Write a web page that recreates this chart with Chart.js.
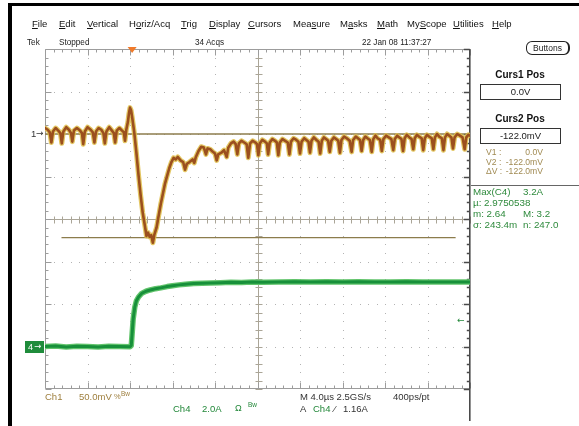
<!DOCTYPE html>
<html>
<head>
<meta charset="utf-8">
<script src="https://cdn.jsdelivr.net/npm/chart.js@4"></script>
<style>
  html, body { margin: 0; padding: 0; background: #fff; }
  #scope { position: relative; width: 579px; height: 426px; overflow: hidden;
           font-family: "Liberation Sans", Arial, "DejaVu Sans", sans-serif; color: #1a1a1a; }
  #scope canvas { position: absolute; left: 0; top: 0; }
  .t { position: absolute; white-space: nowrap; line-height: 1; }
  .menu { font-size: 9.5px; top: 19px; color: #111; }
  .stat { font-size: 9.5px; top: 37px; color: #222; transform-origin: left center; transform: scaleX(0.86); }
  .frame { position: absolute; background: #000; }
  .btn { position: absolute; left: 526px; top: 41px; width: 41px; height: 12px; border: 1.3px solid #222;
         border-right-width: 2px; border-bottom-width: 1.6px; border-radius: 6px; font-size: 8.5px;
         line-height: 12px; text-align: center; color: #222; }
  .hd { font-size: 10px; font-weight: bold; color: #111; width: 80px; left: 480px; text-align: center; }
  .box { position: absolute; left: 480px; width: 79px; height: 14px; border: 1px solid #333;
         font-size: 9.5px; line-height: 14px; text-align: center; color: #222; }
  .cur { font-size: 8.6px; color: #a08a52; }
  .meas { font-size: 9.8px; color: #2e8a3c; }
  .c1 { color: #9e7f3e; }
  .c4 { color: #23883a; }
  .dk { color: #333; }
  .bot { font-size: 9.5px; }
  .sup { font-size: 6.5px; }
</style>
</head>
<body>
<div id="scope">
  <canvas id="c" width="579" height="426"></canvas>

  <div class="frame" style="left:8px;top:2.5px;width:571px;height:3.5px;"></div>
  <div class="frame" style="left:8px;top:2.5px;width:3.5px;height:424px;"></div>

  <div class="t menu" style="left:32px;"><u>F</u>ile</div>
  <div class="t menu" style="left:59px;"><u>E</u>dit</div>
  <div class="t menu" style="left:87px;"><u>V</u>ertical</div>
  <div class="t menu" style="left:129px;">H<u>o</u>riz/Acq</div>
  <div class="t menu" style="left:181px;"><u>T</u>rig</div>
  <div class="t menu" style="left:209px;"><u>D</u>isplay</div>
  <div class="t menu" style="left:248px;"><u>C</u>ursors</div>
  <div class="t menu" style="left:293px;">Mea<u>s</u>ure</div>
  <div class="t menu" style="left:340px;">M<u>a</u>sks</div>
  <div class="t menu" style="left:377px;"><u>M</u>ath</div>
  <div class="t menu" style="left:407px;">My<u>S</u>cope</div>
  <div class="t menu" style="left:453px;"><u>U</u>tilities</div>
  <div class="t menu" style="left:492px;"><u>H</u>elp</div>

  <div class="t stat" style="left:27px;">Tek</div>
  <div class="t stat" style="left:59px;">Stopped</div>
  <div class="t stat" style="left:195px;">34 Acqs</div>
  <div class="t stat" style="left:362px;">22 Jan 08 11:37:27</div>
  <div class="btn">Buttons</div>

  <div class="t hd" style="top:70px;">Curs1 Pos</div>
  <div class="box" style="top:84px;">0.0V</div>
  <div class="t hd" style="top:114px;">Curs2 Pos</div>
  <div class="box" style="top:128px;">-122.0mV</div>

  <div class="t cur" style="left:486px;top:148px;">V1 :</div>
  <div class="t cur" style="right:36px;top:148px;">0.0V</div>
  <div class="t cur" style="left:486px;top:157.5px;">V2 :</div>
  <div class="t cur" style="right:36px;top:157.5px;">-122.0mV</div>
  <div class="t cur" style="left:486px;top:167px;">ΔV :</div>
  <div class="t cur" style="right:36px;top:167px;">-122.0mV</div>

  <div style="position:absolute;left:471px;top:185px;width:108px;height:1px;background:#666;"></div>
  <div class="t meas" style="left:473px;top:187px;">Max(C4)</div>
  <div class="t meas" style="left:523px;top:187px;">3.2A</div>
  <div class="t meas" style="left:473px;top:198px;">µ: 2.9750538</div>
  <div class="t meas" style="left:473px;top:209px;">m: 2.64</div>
  <div class="t meas" style="left:523px;top:209px;">M: 3.2</div>
  <div class="t meas" style="left:473px;top:220px;">σ: 243.4m</div>
  <div class="t meas" style="left:523px;top:220px;">n: 247.0</div>

  <div class="t dk" style="left:31px;top:129px;font-size:9.5px;">1</div>
  <div class="t dk" style="left:36px;top:129px;font-size:9px;font-family:'DejaVu Sans';">→</div>
  <div style="position:absolute;left:25px;top:341px;width:19px;height:12px;background:#1f8c3b;"></div>
  <div class="t" style="left:28px;top:342.5px;font-size:9px;color:#fff;">4</div>
  <div class="t" style="left:34px;top:342px;font-size:8.5px;color:#fff;font-family:'DejaVu Sans';">→</div>
  <div class="t c4" style="left:457px;top:316px;font-size:9px;font-family:'DejaVu Sans';">←</div>

  <div class="t bot c1" style="left:45px;top:392px;">Ch1</div>
  <div class="t bot c1" style="left:79px;top:392px;">50.0mV</div>
  <div class="t c1" style="left:114px;top:393px;font-size:7.5px;">%</div>
  <div class="t sup c1" style="left:121px;top:391px;">Bw</div>
  <div class="t bot dk" style="left:300px;top:392px;">M 4.0µs 2.5GS/s</div>
  <div class="t bot dk" style="left:393px;top:392px;">400ps/pt</div>

  <div class="t bot c4" style="left:173px;top:403.5px;">Ch4</div>
  <div class="t bot c4" style="left:202px;top:403.5px;">2.0A</div>
  <div class="t bot c4" style="left:235px;top:403.5px;font-size:9px;">Ω</div>
  <div class="t sup c4" style="left:248px;top:401.5px;">Bw</div>
  <div class="t bot dk" style="left:300px;top:403.5px;">A</div>
  <div class="t bot c4" style="left:313px;top:403.5px;">Ch4</div>
  <div class="t bot dk" style="left:334px;top:403.5px;">⁄</div>
  <div class="t bot dk" style="left:343px;top:403.5px;">1.16A</div>
</div>

<script>
// Channel 1: sense voltage (mV) against time (µs)
const ch1Time = [
  -8.0, -7.75, -7.55, -7.4, -7.25,
  -7.0, -6.75, -6.55, -6.42, -6.27,
  -6.0, -5.75, -5.55, -5.43, -5.28,
  -5.0, -4.7, -4.52, -4.4, -4.25,
  -4.0, -3.7, -3.5, -3.35, -3.2,
  -2.95, -2.7, -2.5, -2.37, -2.22,
  -1.95, -1.7, -1.52, -1.4, -1.25,
  -1.0, -0.75, -0.58, -0.47, -0.35,
  -0.2, -0.1, 0.0, 0.1, 0.2,
  0.4, 0.6, 0.8, 1.0, 1.2,
  1.4, 1.55, 1.7, 1.85, 2.0,
  2.15, 2.3, 2.5, 2.7, 2.9,
  3.1, 3.3, 3.5, 3.7, 3.9,
  4.1, 4.3, 4.5, 4.75, 5.0,
  5.18, 5.35, 5.6, 5.9, 6.05,
  6.2, 6.45, 6.7, 6.95, 7.15,
  7.3, 7.55, 7.8, 8.0, 8.16,
  8.3, 8.6, 8.85, 9.1, 9.25,
  9.5, 9.75, 9.95, 10.1, 10.25,
  10.5, 10.75, 10.98, 11.13, 11.3,
  11.55, 11.8, 11.95, 12.08, 12.22,
  12.45, 12.7, 12.88, 13.0, 13.15,
  13.4, 13.65, 13.82, 13.96, 14.1,
  14.35, 14.6, 14.85, 15.0, 15.15,
  15.4, 15.65, 15.85, 16.0, 16.15,
  16.4, 16.6, 16.8, 16.94, 17.08,
  17.3, 17.55, 17.75, 17.9, 18.05,
  18.25, 18.45, 18.65, 18.8, 18.95,
  19.2, 19.4, 19.6, 19.76, 19.9,
  20.15, 20.4, 20.68, 20.86, 21.0,
  21.25, 21.45, 21.65, 21.8, 21.95,
  22.15, 22.35, 22.58, 22.75, 22.9,
  23.1, 23.3, 23.55, 23.7, 23.85,
  24.1, 24.35, 24.6, 24.78, 24.92,
  25.15, 25.35, 25.55, 25.7, 25.85,
  26.05, 26.3, 26.5, 26.66, 26.8,
  27.0, 27.2, 27.45, 27.6, 27.75,
  27.95, 28.15, 28.4, 28.55, 28.7,
  28.9, 29.1, 29.35, 29.5, 29.65,
  29.85, 30.05, 30.25, 30.4, 30.55,
  30.8, 31.05, 31.3, 31.5, 31.65,
  31.85, 32.0
];
const ch1Volt = [
  7, 5, 2, -10, 3,
  7, 4, 1, -11, 3,
  8, 5, 1, -9, 4,
  7, 4, 1, -12, 3,
  8, 5, 2, -10, 3,
  7, 5, 1, -11, 3,
  8, 4, 1, -10, 4,
  7, 4, 2, -8, 5,
  14, 24, 31, 28, 20,
  2, -22, -48, -72, -93,
  -108, -120, -116, -121, -119,
  -128, -118, -110, -96, -82,
  -70, -58, -49, -40, -33,
  -28, -30, -27, -31, -33,
  -42, -35, -33, -30, -34,
  -27, -20, -15, -16, -24,
  -17, -18, -21, -23, -31,
  -24, -22, -19, -27, -16,
  -11, -9, -12, -24, -11,
  -8, -10, -12, -28, -11,
  -8, -10, -12, -25, -11,
  -7, -9, -11, -24, -10,
  -6, -8, -10, -25, -10,
  -6, -8, -10, -24, -9,
  -5, -7, -9, -23, -9,
  -5, -7, -9, -22, -8,
  -4, -7, -9, -23, -8,
  -4, -6, -8, -21, -8,
  -4, -6, -8, -22, -7,
  -3, -5, -8, -21, -7,
  -3, -5, -7, -20, -7,
  -3, -5, -7, -21, -6,
  -2, -5, -7, -20, -6,
  -2, -4, -6, -19, -6,
  -2, -4, -6, -20, -5,
  -1, -4, -6, -18, -5,
  -1, -3, -5, -19, -5,
  -1, -3, -5, -18, -4,
  0, -3, -5, -19, -4,
  0, -2, -4, -17, -4,
  0, -2, -4, -18, -4,
  -1, -2
];

// Channel 4: current (A) against time (µs)
const ch4Time = [
  -8, -7, -6, -5, -4, -3, -2, -1, 0, 0.12,
  0.2, 0.3, 0.45, 0.6, 0.8, 1.1, 1.5, 1.9, 2.4, 2.9,
  3.5, 4.0, 4.6, 5.2, 6.0, 6.8, 7.6, 8.5, 9.5, 10.5,
  11.5, 12.5, 14, 15.5, 17, 18.5, 20, 21.5, 23, 24.5,
  26, 27.5, 29, 30.5, 32
];
const ch4Amp = [
  0.0, 0.02, -0.02, 0.01, 0.0, -0.02, 0.01, 0.0, -0.01, 0.05,
  0.6, 1.3, 1.85, 2.15, 2.33, 2.5, 2.6, 2.66, 2.72, 2.76,
  2.82, 2.86, 2.9, 2.93, 2.96, 2.98, 2.99, 3.0, 3.02, 3.01,
  3.03, 3.02, 3.04, 3.05, 3.03, 3.05, 3.04, 3.05, 3.03, 3.04,
  3.05, 3.03, 3.04, 3.03, 3.04
];

// Horizontal cursors (mV) and the time span each one is drawn over (µs)
const cursorLevels = [0, -122];
const cursorSpans = [[-8, 32], [-6.4, 30.6]];

// Trigger: position on the time axis (µs) and level on channel 4 (A)
const triggerTime = 0.2;
const triggerLevel = 1.16;

// Screen span: 10 divisions of 4 µs, 8 divisions of 50 mV and of 2 A
const timeRange = [-8, 32];
const ch1Range = [-300, 100];
const ch4Range = [-2, 14];

const ch1Points = ch1Time.map((t, i) => ({ x: t, y: ch1Volt[i] }));
const ch4Points = ch4Time.map((t, i) => ({ x: t, y: ch4Amp[i] }));

// Tek-style graticule: dotted division lines, ticked centre axes and border
const graticule = {
  id: 'graticule',
  beforeDatasetsDraw(chart) {
    const { ctx, chartArea: a } = chart;
    const xs = chart.scales.x, ys = chart.scales.y1;
    const xAt = d => xs.getPixelForValue(timeRange[0] + d * 4);
    const yAt = d => ys.getPixelForValue(ch1Range[1] - d * 50);
    const L = a.left, R = a.right, T = a.top, B = a.bottom;
    ctx.save();

    ctx.fillStyle = '#b3b3b3';
    for (let i = 1; i < 10; i++) {
      if (i === 5) continue;
      const x = Math.round(xAt(i));
      for (let k = 1; k < 40; k++) ctx.fillRect(x, Math.round(yAt(k / 5)), 1, 1);
    }
    for (let j = 1; j < 8; j++) {
      if (j === 4) continue;
      const y = Math.round(yAt(j));
      for (let k = 1; k < 50; k++) ctx.fillRect(Math.round(xAt(k / 5)), y, 1, 1);
    }

    ctx.strokeStyle = '#aaa597';
    ctx.lineWidth = 1;
    const cx = Math.round(xAt(5)) + 0.5, cy = Math.round(yAt(4)) + 0.5;
    ctx.beginPath();
    ctx.moveTo(L, cy); ctx.lineTo(R, cy);
    ctx.moveTo(cx, T); ctx.lineTo(cx, B);
    for (let k = 0; k <= 50; k++) {
      const x = Math.round(xAt(k / 5)) + 0.5;
      ctx.moveTo(x, cy - 3); ctx.lineTo(x, cy + 4);
    }
    for (let k = 0; k <= 40; k++) {
      const y = Math.round(yAt(k / 5)) + 0.5;
      ctx.moveTo(cx - 3, y); ctx.lineTo(cx + 4, y);
    }
    ctx.stroke();

    ctx.strokeStyle = '#9c9c9c';
    const l = Math.round(L) + 0.5, t = Math.round(T) + 0.5, b = Math.round(B) - 0.5;
    ctx.beginPath();
    ctx.moveTo(l, t); ctx.lineTo(R, t);
    ctx.moveTo(l, t); ctx.lineTo(l, b); ctx.lineTo(R, b);
    for (let k = 0; k <= 50; k++) {
      const x = Math.round(xAt(k / 5)) + 0.5, len = k % 5 === 0 ? 6 : 3;
      ctx.moveTo(x, t); ctx.lineTo(x, t + len);
      ctx.moveTo(x, b); ctx.lineTo(x, b - len);
    }
    for (let k = 0; k <= 40; k++) {
      const y = Math.round(yAt(k / 5)) + 0.5, len = k % 5 === 0 ? 6 : 3;
      ctx.moveTo(l, y); ctx.lineTo(l + len, y);
    }
    ctx.stroke();

    ctx.strokeStyle = '#4a4a4a';
    ctx.lineWidth = 1.6;
    const r = Math.round(R) - 0.2;
    ctx.beginPath();
    ctx.moveTo(r, T); ctx.lineTo(r, 421);
    for (let k = 0; k <= 40; k++) {
      const y = Math.round(yAt(k / 5)) + 0.5, len = k % 5 === 0 ? 6 : 3;
      ctx.moveTo(r, y); ctx.lineTo(r - len, y);
    }
    ctx.stroke();

    const tx = xs.getPixelForValue(triggerTime);
    ctx.fillStyle = '#f07a2a';
    ctx.beginPath();
    ctx.moveTo(tx - 4.5, T - 2); ctx.lineTo(tx + 4.5, T - 2); ctx.lineTo(tx, T + 4);
    ctx.closePath();
    ctx.fill();
    ctx.restore();
  }
};

const cursorSets = cursorLevels.map((lv, i) => ({
  data: cursorSpans[i].map(t => ({ x: t, y: lv })),
  yAxisID: 'y1',
  borderColor: '#8c7c4c',
  borderWidth: 1.3,
  pointRadius: 0,
  order: 10
}));

new Chart(document.getElementById('c'), {
  type: 'line',
  data: {
    datasets: [
      ...cursorSets,
      { data: ch1Points, yAxisID: 'y1', borderColor: 'rgba(222,188,70,0.85)', borderWidth: 5, pointRadius: 0, order: 6 },
      { data: ch1Points, yAxisID: 'y1', borderColor: '#9b4f1e', borderWidth: 2.6, pointRadius: 0, order: 5 },
      { data: ch4Points, yAxisID: 'y4', borderColor: '#62c46c', borderWidth: 5.5, pointRadius: 0, order: 4 },
      { data: ch4Points, yAxisID: 'y4', borderColor: '#17903a', borderWidth: 3, pointRadius: 0, order: 3 },
      { data: [{ x: timeRange[0], y: triggerLevel }], yAxisID: 'y4', pointRadius: 0, showLine: false, order: 1 }
    ]
  },
  options: {
    responsive: false,
    animation: false,
    layout: { padding: { left: 45, top: 49, right: 109, bottom: 37 } },
    plugins: { legend: { display: false }, tooltip: { enabled: false } },
    elements: { line: { tension: 0, borderJoinStyle: 'round', borderCapStyle: 'round' } },
    scales: {
      x: { type: 'linear', min: timeRange[0], max: timeRange[1], display: false },
      y1: { type: 'linear', min: ch1Range[0], max: ch1Range[1], display: false },
      y4: { type: 'linear', min: ch4Range[0], max: ch4Range[1], display: false }
    }
  },
  plugins: [graticule]
});
</script>
</body>
</html>
